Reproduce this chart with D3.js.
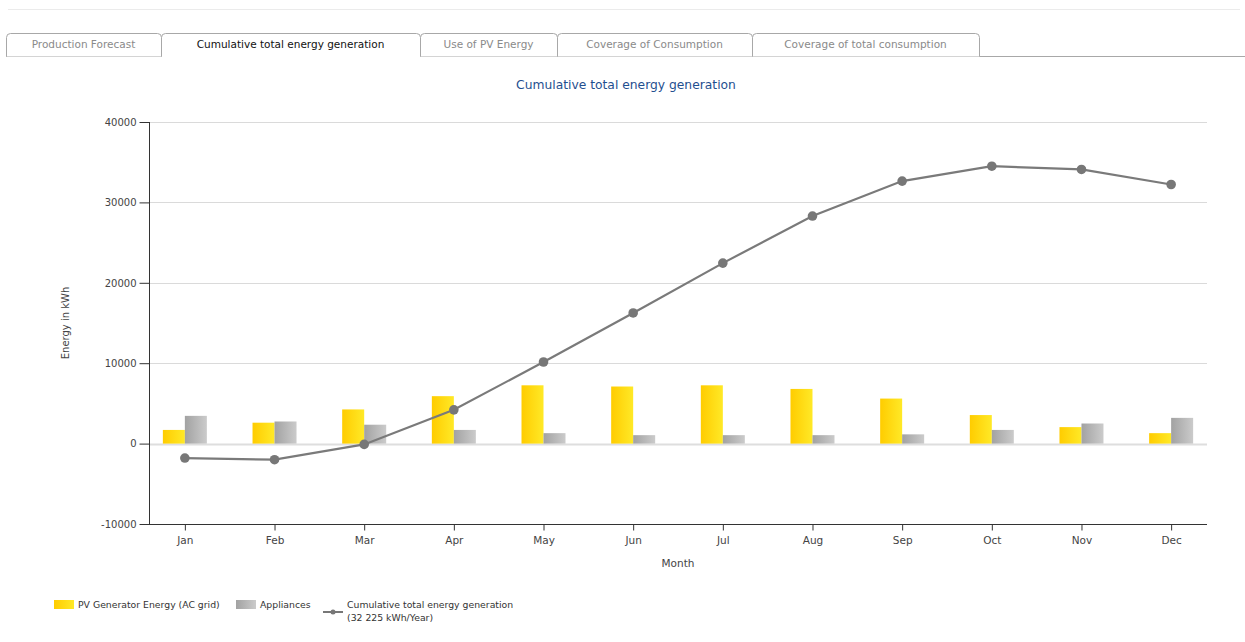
<!DOCTYPE html>
<html>
<head>
<meta charset="utf-8">
<script src="https://cdn.jsdelivr.net/npm/d3@7"></script>
<style>
  body { margin: 0; background: #fff; font-family: "DejaVu Sans", Verdana, sans-serif; }
  svg { display: block; }
</style>
</head>
<body>
<svg width="1245" height="642"></svg>
<script>
// data
var months = ['Jan','Feb','Mar','Apr','May','Jun','Jul','Aug','Sep','Oct','Nov','Dec']
var pvEnergy = [1700, 2600, 4250, 5900, 7250, 7100, 7250, 6800, 5600, 3550, 2050, 1300]
var appliances = [3450, 2750, 2350, 1700, 1300, 1050, 1050, 1050, 1150, 1700, 2500, 3200]
var cumulative = [-1800, -2000, -100, 4200, 10150, 16250, 22450, 28300, 32650, 34500, 34100, 32225]
var yTicks = [-10000, 0, 10000, 20000, 30000, 40000]
var tabs = ['Production Forecast', 'Cumulative total energy generation', 'Use of PV Energy', 'Coverage of Consumption', 'Coverage of total consumption']
var tabEdges = [6, 161, 420, 557, 752, 979]
var activeTab = 1

var svg = d3.select('svg')

var defs = svg.append('defs')
var gy = defs.append('linearGradient').attr('id', 'gradYellow')
gy.append('stop').attr('offset', '0%').attr('stop-color', '#ffcc00')
gy.append('stop').attr('offset', '100%').attr('stop-color', '#ffe927')
var gg = defs.append('linearGradient').attr('id', 'gradGrey')
gg.append('stop').attr('offset', '0%').attr('stop-color', '#a2a2a2')
gg.append('stop').attr('offset', '100%').attr('stop-color', '#cbcbcb')

// top rule + tabs
svg.append('line').attr('x1', 8).attr('x2', 1240).attr('y1', 9.5).attr('y2', 9.5)
  .attr('stroke', '#ebebeb')
svg.append('line').attr('x1', 6).attr('x2', 1245).attr('y1', 56.5).attr('y2', 56.5)
  .attr('stroke', '#a8a8a8')

var tab = svg.selectAll('g.tab').data(tabs).enter().append('g').attr('class', 'tab')
tab.append('path')
  .attr('d', function(d, i) {
    var x0 = tabEdges[i] + 0.5, x1 = tabEdges[i + 1] + 0.5, y0 = 33.5, y1 = 56.5, r = 4
    return 'M' + x0 + ',' + y1 + 'V' + (y0 + r) + 'Q' + x0 + ',' + y0 + ' ' + (x0 + r) + ',' + y0 +
      'H' + (x1 - r) + 'Q' + x1 + ',' + y0 + ' ' + x1 + ',' + (y0 + r) + 'V' + y1
  })
  .attr('fill', '#fff')
  .attr('stroke', '#a8a8a8')
tab.filter(function(d, i) { return i == activeTab }).append('line')
  .attr('x1', tabEdges[activeTab] + 1).attr('x2', tabEdges[activeTab + 1])
  .attr('y1', 56.5).attr('y2', 56.5).attr('stroke', '#fff').attr('stroke-width', 1.5)
tab.append('text')
  .attr('x', function(d, i) { return (tabEdges[i] + tabEdges[i + 1]) / 2 })
  .attr('y', 48)
  .attr('text-anchor', 'middle')
  .style('font-size', '10.5px')
  .style('fill', function(d, i) { return i == activeTab ? '#111' : '#8a8a8a' })
  .text(function(d) { return d })

// chart title
svg.append('text').attr('x', 626).attr('y', 89).attr('text-anchor', 'middle')
  .style('font-size', '12.3px').style('fill', '#1f4f8f')
  .text('Cumulative total energy generation')

var mLeft = 149, mRight = 1207, mTop = 122, mBottom = 524

var x = d3.scalePoint().domain(months).range([mLeft, mRight]).padding(0.4)
var y = d3.scaleLinear().domain([-10000, 40000]).range([mBottom, mTop])
var sub = d3.scaleBand().domain(['pv', 'app']).range([-22, 22])

// grid lines
svg.append('g').selectAll('line').data(yTicks.filter(function(d) { return d > -10000 }))
  .enter().append('line')
  .attr('x1', mLeft).attr('x2', mRight)
  .attr('y1', function(d) { return Math.round(y(d)) + 0.5 })
  .attr('y2', function(d) { return Math.round(y(d)) + 0.5 })
  .attr('stroke', function(d) { return d == 0 ? '#dedede' : '#dadada' })
  .attr('stroke-width', function(d) { return d == 0 ? 2 : 1 })

// bars
var grp = svg.append('g').selectAll('g').data(months).enter().append('g')
  .attr('transform', function(d) { return 'translate(' + x(d) + ',0)' })
grp.append('rect')
  .attr('x', sub('pv')).attr('width', sub.bandwidth())
  .attr('y', function(d, i) { return y(pvEnergy[i]) })
  .attr('height', function(d, i) { return y(0) - y(pvEnergy[i]) })
  .attr('fill', 'url(#gradYellow)')
grp.append('rect')
  .attr('x', sub('app')).attr('width', sub.bandwidth())
  .attr('y', function(d, i) { return y(appliances[i]) })
  .attr('height', function(d, i) { return y(0) - y(appliances[i]) })
  .attr('fill', 'url(#gradGrey)')

// axes
var yAxis = svg.append('g').attr('transform', 'translate(' + (mLeft + 0.5) + ',0)')
  .call(d3.axisLeft(y).tickValues(yTicks).tickSize(10).tickPadding(3)
    .tickFormat(function(d) { return String(d) }))
yAxis.select('.domain').attr('d', 'M0,' + mTop + 'V' + (mBottom + 0.5)).attr('stroke', '#333')
yAxis.selectAll('.tick line').attr('stroke', '#333')
yAxis.selectAll('text').style('font-size', '10px').style('fill', '#444').style('font-family', 'DejaVu Sans')

var xAxis = svg.append('g').attr('transform', 'translate(0,' + (mBottom + 0.5) + ')')
  .call(d3.axisBottom(x).tickSize(6).tickPadding(6))
xAxis.select('.domain').attr('d', 'M' + mLeft + ',0H' + mRight).attr('stroke', '#333')
xAxis.selectAll('.tick line').attr('stroke', '#333')
xAxis.selectAll('text').style('font-size', '10.5px').style('fill', '#444').style('font-family', 'DejaVu Sans')

svg.append('text').attr('x', 678).attr('y', 567).attr('text-anchor', 'middle')
  .style('font-size', '10.5px').style('fill', '#444').text('Month')
svg.append('text').attr('transform', 'translate(69,323) rotate(-90)').attr('text-anchor', 'middle')
  .style('font-size', '10px').style('fill', '#444').text('Energy in kWh')

// cumulative line (straight segments)
var line = d3.line()
  .x(function(d, i) { return x(months[i]) })
  .y(function(d) { return y(d) })
svg.append('path').datum(cumulative).attr('d', line)
  .attr('fill', 'none').attr('stroke', '#7a7a7a').attr('stroke-width', 2.2)
svg.append('g').selectAll('circle').data(cumulative).enter().append('circle')
  .attr('cx', function(d, i) { return x(months[i]) })
  .attr('cy', function(d) { return y(d) })
  .attr('r', 4.8)
  .attr('fill', '#777')

// legend
var lg = svg.append('g').style('font-size', '9.3px').style('fill', '#333')
lg.append('rect').attr('x', 54).attr('y', 600).attr('width', 20).attr('height', 9).attr('fill', 'url(#gradYellow)')
lg.append('text').attr('x', 78).attr('y', 608).text('PV Generator Energy (AC grid)')
lg.append('rect').attr('x', 236).attr('y', 600).attr('width', 20).attr('height', 9).attr('fill', 'url(#gradGrey)')
lg.append('text').attr('x', 260).attr('y', 608).text('Appliances')
lg.append('line').attr('x1', 323).attr('x2', 343).attr('y1', 612).attr('y2', 612)
  .attr('stroke', '#777').attr('stroke-width', 2)
lg.append('circle').attr('cx', 333).attr('cy', 612).attr('r', 2.5).attr('fill', '#777')
lg.append('text').attr('x', 347).attr('y', 608).text('Cumulative total energy generation')
lg.append('text').attr('x', 347).attr('y', 621).text('(32 225 kWh/Year)')
</script>
</body>
</html>
